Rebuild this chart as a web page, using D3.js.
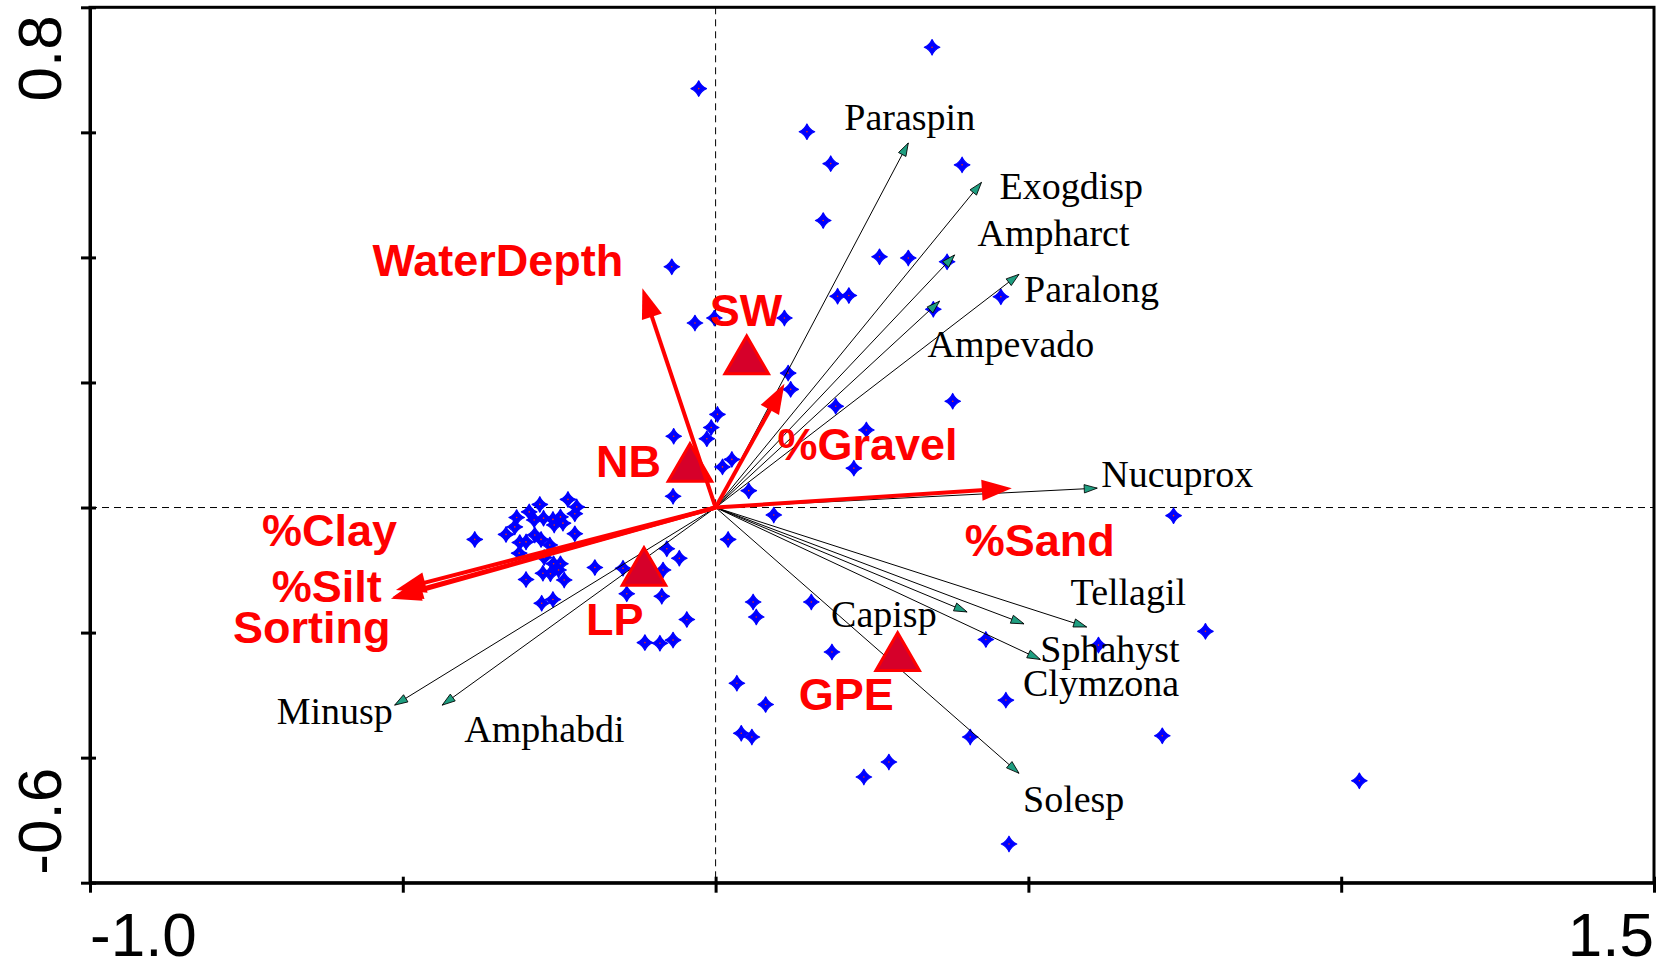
<!DOCTYPE html>
<html>
<head>
<meta charset="utf-8">
<script src="https://cdn.jsdelivr.net/npm/d3@7"></script>
<style>
  html, body { margin: 0; padding: 0; background: #fff; }
  svg { display: block; }
</style>
</head>
<body>
<svg id="chart" width="1664" height="962"></svg>
<script>
// ---- Ordination scores (axis 1 = x, axis 2 = y) ----

// Sample (station) scores
const sampleX = [
  0.346, -0.027, 0.146, 0.184, 0.394, 0.172, -0.070, 0.262, 0.308, 0.370,
  0.195, 0.213, 0.456, -0.033, -0.002, 0.110, 0.348, 0.116, 0.120, 0.192,
  0.379, 0.003, -0.067, -0.007, -0.014, 0.026, 0.011, 0.241, 0.221, -0.068,
  0.053, 0.093, 0.020, 0.732, 0.783, 0.714, 1.029, 0.612, 0.432, 0.464,
  0.407, 0.469, 0.277, 0.237, 0.041, 0.058, 0.080, 0.034, 0.153, 0.186,
  0.060, 0.065, -0.046, -0.113, -0.089, -0.068, -0.142, -0.086, -0.078, -0.058,
  -0.084, -0.193, -0.148, -0.385, -0.335, -0.318, -0.321, -0.298, -0.281, -0.290,
  -0.275, -0.260, -0.248, -0.258, -0.244, -0.236, -0.222, -0.225, -0.225, -0.313,
  -0.303, -0.289, -0.279, -0.265, -0.314, -0.274, -0.259, -0.248, -0.276, -0.264,
  -0.251, -0.242, -0.303, -0.278, -0.260
];
const sampleY = [
  0.736, 0.670, 0.601, 0.550, 0.548, 0.459, 0.385, 0.401, 0.399, 0.393,
  0.338, 0.339, 0.337, 0.295, 0.303, 0.303, 0.317, 0.215, 0.189, 0.162,
  0.170, 0.149, 0.114, 0.128, 0.110, 0.077, 0.065, 0.124, 0.063, 0.018,
  0.027, -0.012, -0.051, -0.013, -0.198, -0.365, -0.437, -0.220, -0.211, -0.308,
  -0.367, -0.538, -0.407, -0.431, -0.361, -0.367, -0.315, -0.281, -0.151, -0.231,
  -0.151, -0.175, -0.179, -0.216, -0.217, -0.212, -0.138, -0.142, -0.066, -0.081,
  -0.100, -0.096, -0.097, -0.051, -0.043, -0.016, -0.031, -0.007, 0.005, -0.020,
  -0.017, -0.019, -0.015, -0.028, -0.025, 0.013, 0.001, -0.010, -0.042, -0.056,
  -0.055, -0.044, -0.051, -0.060, -0.073, -0.080, -0.090, -0.090, -0.105, -0.106,
  -0.100, -0.116, -0.115, -0.153, -0.147
];

// Species scores
const speciesNames = ["Paraspin", "Exogdisp", "Ampharct", "Paralong", "Ampevado", "Nucuprox",
                      "Tellagil", "Capisp", "Sphahyst", "Clymzona", "Solesp", "Minusp", "Amphabdi"];
const speciesX = [0.308, 0.425, 0.382, 0.485, 0.358, 0.610, 0.593, 0.402, 0.519, 0.493, 0.485, -0.513, -0.437];
const speciesY = [0.583, 0.520, 0.404, 0.373, 0.330, 0.031, -0.191, -0.167, -0.243, -0.186, -0.425, -0.316, -0.316];

// Environmental variable scores
const envNames = ["WaterDepth", "%Gravel", "%Sand", "%Clay", "%Silt", "Sorting"];
const envX = [-0.117, 0.110, 0.4735, -0.511, -0.516, -0.519];
const envY = [0.3506, 0.198, 0.0307, -0.132, -0.143, -0.146];

// Site-group centroids
const siteNames = ["SW", "NB", "LP", "GPE"];
const siteX = [0.0497, -0.041, -0.1145, 0.291];
const siteY = [0.234, 0.062, -0.1044, -0.2404];

// Axis ticks and the labelled axis ends
const xTicks = [-1.0, -0.5, 0, 0.5, 1.0, 1.5];
const yTicks = [-0.6, -0.4, -0.2, 0, 0.2, 0.4, 0.6, 0.8];
const xEndLabels = ["-1.0", "1.5"];
const yEndLabels = ["-0.6", "0.8"];

// ---- Layout ----
const plot = { left: 90, right: 1654, top: 7.3, bottom: 882.7 };

// Label placement (pixel offsets from the arrow tip / centroid)
const speciesLabelOffset = {
  Paraspin: [-64, -13], Exogdisp: [18, 17], Ampharct: [23, -9], Paralong: [5, 28],
  Ampevado: [-12, 56], Nucuprox: [4, -1], Tellagil: [-16, -22], Capisp: [-136, 15],
  Sphahyst: [0, 3], Clymzona: [-1, 72], Solesp: [4, 39], Minusp: [-118, 19], Amphabdi: [22, 37]
};
const envLabelOffset = {
  "WaterDepth": [-270, -12], "%Gravel": [-7, 76], "%Sand": [-47, 68],
  "%Clay": [-134, -44], "%Silt": [-121, 5], "Sorting": [-158, 44]
};
const siteLabelOffset = { SW: [-37, -35], NB: [-94, 8], LP: [-58, 62], GPE: [-99, 52] };

const svg = d3.select("#chart");
const x = d3.scaleLinear().domain([-1.0, 1.5]).range([plot.left, plot.right]);
const y = d3.scaleLinear().domain([-0.6, 0.8]).range([plot.bottom, plot.top]);

const defs = svg.append("defs");
defs.append("marker")
  .attr("id", "spHead").attr("markerUnits", "userSpaceOnUse")
  .attr("viewBox", "-15 -6 16 12").attr("markerWidth", 16).attr("markerHeight", 12)
  .attr("refX", 0).attr("refY", 0).attr("orient", "auto").style("overflow", "visible")
  .append("path").attr("d", "M0,0 L-13,-4.2 L-13,4.2 Z")
  .attr("fill", "#1f9e80").attr("stroke", "#000").attr("stroke-width", 0.8);

const headBack = 12; // how far the red head tip sits beyond the shaft end
defs.append("marker")
  .attr("id", "envHead").attr("markerUnits", "userSpaceOnUse")
  .attr("viewBox", "-40 -14 56 28").attr("markerWidth", 56).attr("markerHeight", 28)
  .attr("refX", -headBack).attr("refY", 0).attr("orient", "auto").style("overflow", "visible")
  .append("path").attr("d", "M0,0 L-30,-10.5 L-30,10.5 Z").attr("fill", "#ff0000");

// Reference lines through the origin
const ref = svg.append("g").attr("stroke", "#000").attr("stroke-width", 1).attr("stroke-dasharray", "7,5");
ref.append("line").attr("x1", x(0)).attr("x2", x(0)).attr("y1", plot.top).attr("y2", plot.bottom);
ref.append("line").attr("x1", plot.left).attr("x2", plot.right).attr("y1", y(0)).attr("y2", y(0));

// Four-pointed star used for the samples (pinched sides, pointed arms)
const star4 = {
  draw(ctx, size) {
    const r = Math.sqrt(size) / 2;
    const c = r * 0.3;
    ctx.moveTo(0, -r);
    ctx.quadraticCurveTo(c, -c, r, 0);
    ctx.quadraticCurveTo(c, c, 0, r);
    ctx.quadraticCurveTo(-c, c, -r, 0);
    ctx.quadraticCurveTo(-c, -c, 0, -r);
    ctx.closePath();
  }
};
const samples = d3.range(sampleX.length).map(i => ({ x: sampleX[i], y: sampleY[i] }));
const gS = svg.append("g");
gS.selectAll("path").data(samples).join("path")
  .attr("transform", d => `translate(${x(d.x)},${y(d.y)})`)
  .attr("d", d3.symbol().type(star4).size(240))
  .attr("fill", "#0000ff").attr("stroke", "#0000ff").attr("stroke-width", 1.2)
  .attr("stroke-linejoin", "round");
gS.selectAll("circle").data(samples).join("circle")
  .attr("cx", d => x(d.x)).attr("cy", d => y(d.y)).attr("r", 0.8)
  .attr("fill", "#ff3a00");

// Species arrows
const species = speciesNames.map((n, i) => ({ name: n, x: speciesX[i], y: speciesY[i] }));
svg.append("g").selectAll("line").data(species).join("line")
  .attr("x1", x(0)).attr("y1", y(0))
  .attr("x2", d => x(d.x)).attr("y2", d => y(d.y))
  .attr("stroke", "#000").attr("stroke-width", 1)
  .attr("marker-end", "url(#spHead)");

// Centroid triangles
const sites = siteNames.map((n, i) => ({ name: n, x: siteX[i], y: siteY[i] }));
svg.append("g").selectAll("path").data(sites).join("path")
  .attr("transform", d => `translate(${x(d.x)},${y(d.y)})`)
  .attr("d", d3.symbol().type(d3.symbolTriangle).size(820))
  .attr("fill", "#d6002a").attr("stroke", "#ff0000").attr("stroke-width", 3)
  .attr("stroke-linejoin", "miter");

// Environmental arrows
const env = envNames.map((n, i) => ({ name: n, x: envX[i], y: envY[i] }));
svg.append("g").selectAll("line").data(env).join("line")
  .attr("x1", x(0)).attr("y1", y(0))
  .attr("x2", d => {
    const dx = x(d.x) - x(0), dy = y(d.y) - y(0), L = Math.hypot(dx, dy);
    return x(d.x) - dx / L * headBack;
  })
  .attr("y2", d => {
    const dx = x(d.x) - x(0), dy = y(d.y) - y(0), L = Math.hypot(dx, dy);
    return y(d.y) - dy / L * headBack;
  })
  .attr("stroke", "#ff0000").attr("stroke-width", 4)
  .attr("marker-end", "url(#envHead)");

// Labels
svg.append("g").selectAll("text").data(species).join("text")
  .attr("x", d => x(d.x) + speciesLabelOffset[d.name][0])
  .attr("y", d => y(d.y) + speciesLabelOffset[d.name][1])
  .attr("font-family", "'Liberation Serif', 'Times New Roman', serif")
  .attr("font-size", 38).attr("fill", "#000")
  .text(d => d.name);

svg.append("g").selectAll("text").data(env).join("text")
  .attr("x", d => x(d.x) + envLabelOffset[d.name][0])
  .attr("y", d => y(d.y) + envLabelOffset[d.name][1])
  .attr("font-family", "'Liberation Sans', Arial, sans-serif")
  .attr("font-weight", "bold").attr("font-size", 45).attr("fill", "#ff0000")
  .text(d => d.name);

svg.append("g").selectAll("text").data(sites).join("text")
  .attr("x", d => x(d.x) + siteLabelOffset[d.name][0])
  .attr("y", d => y(d.y) + siteLabelOffset[d.name][1])
  .attr("font-family", "'Liberation Sans', Arial, sans-serif")
  .attr("font-weight", "bold").attr("font-size", 45).attr("fill", "#ff0000")
  .text(d => d.name);

// Frame
svg.append("rect")
  .attr("x", plot.left).attr("y", plot.top)
  .attr("width", plot.right - plot.left).attr("height", plot.bottom - plot.top)
  .attr("fill", "none").attr("stroke", "#000").attr("stroke-width", 3);

// Axes: ticks cross the axis line (longer on the outside)
const ax = svg.append("g").attr("transform", `translate(0,${plot.bottom})`)
  .call(d3.axisBottom(x).tickValues(xTicks).tickSize(10).tickSizeOuter(0).tickFormat(""));
const ay = svg.append("g").attr("transform", `translate(${plot.left},0)`)
  .call(d3.axisLeft(y).tickValues(yTicks).tickSize(9).tickSizeOuter(0).tickFormat(""));
[ax, ay].forEach(g => {
  g.select(".domain").attr("stroke", "#000").attr("stroke-width", 3);
  g.selectAll(".tick line").attr("stroke", "#000").attr("stroke-width", 3);
});
ax.selectAll(".tick line").attr("y1", -6);
ay.selectAll(".tick line").attr("x1", 6);

// End labels of the axes
const tickFont = "'Liberation Sans', Arial, sans-serif";
svg.append("text").attr("x", x(-1.0)).attr("y", 956)
  .attr("font-family", tickFont).attr("font-size", 62).attr("text-anchor", "start")
  .text(xEndLabels[0]);
svg.append("text").attr("x", x(1.5)).attr("y", 956)
  .attr("font-family", tickFont).attr("font-size", 62).attr("text-anchor", "end")
  .text(xEndLabels[1]);
svg.append("text").attr("transform", `translate(61,${y(-0.6) - 8}) rotate(-90)`)
  .attr("font-family", tickFont).attr("font-size", 62).attr("text-anchor", "start")
  .text(yEndLabels[0]);
svg.append("text").attr("transform", `translate(61,${y(0.8) + 8}) rotate(-90)`)
  .attr("font-family", tickFont).attr("font-size", 62).attr("text-anchor", "end")
  .text(yEndLabels[1]);
</script>
</body>
</html>
